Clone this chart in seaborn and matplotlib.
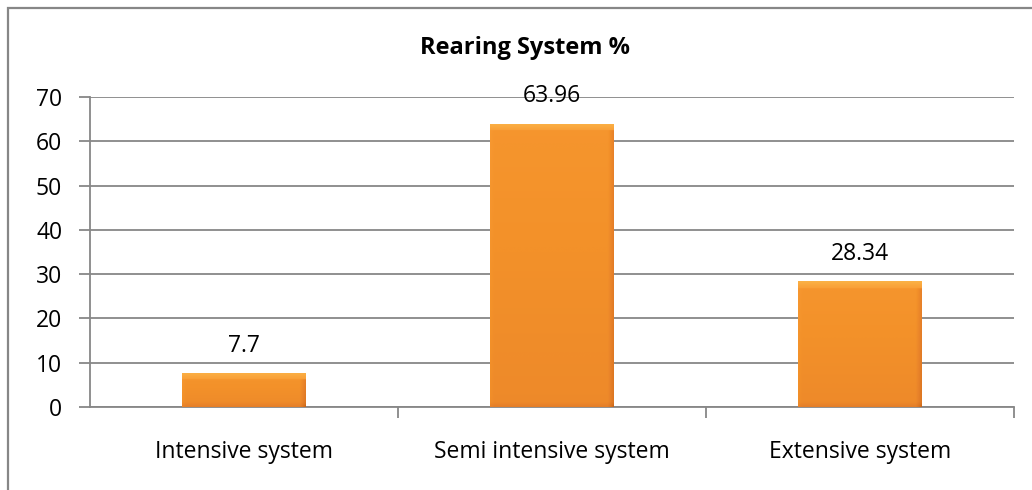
import numpy as np
import matplotlib
matplotlib.use("Agg")
import matplotlib.pyplot as plt
import seaborn as sns
import pandas as pd
from matplotlib.patches import Rectangle
from matplotlib.colors import LinearSegmentedColormap

categories = ["Intensive system", "Semi intensive system", "Extensive system"]
values = [7.7, 63.96, 28.34]
value_labels = ["7.7", "63.96", "28.34"]
title = "Rearing System %"

sns.set_theme(style="white")
plt.rcParams["font.family"] = ["Open Sans", "DejaVu Sans"]

GRID = "#878787"
FS = 16.5
W, H = 1032, 490
fig = plt.figure(figsize=(W / 100, H / 100), dpi=100)
ax = fig.add_axes([90 / W, 1 - 407 / H, (1014 - 90) / W, (407 - 97) / H])

df = pd.DataFrame({"system": categories, "pct": values})
sns.barplot(data=df, x="system", y="pct", width=0.4, color="#F39325",
            edgecolor="none", ax=ax, zorder=3)

# bevelled orange fill clipped to each bar
cmap = LinearSegmentedColormap.from_list(
    "bevel", ["#B95A14", "#DA7420", "#E8822A", "#F39129", "#F99C35", "#FBB448"])
px_per_unit = (407 - 97) / 70
for p in list(ax.patches):
    x0, y0 = p.get_x(), p.get_y()
    w, h = p.get_width(), p.get_height()
    nx, ny = 240, 400
    gx = np.linspace(0, 1, nx)
    gy = np.linspace(0, 1, ny)
    X, Y = np.meshgrid(gx, gy)
    hp = h * px_per_unit
    wp = 124.0
    # distances in pixels from each edge
    dl, dr = X * wp, (1 - X) * wp
    db, dt = Y * hp, (1 - Y) * hp
    base = 0.50 + 0.18 * Y
    base = np.where(dr < 6, base - 0.28 * (1 - dr / 6), base)
    base = np.where(dl < 4, base + 0.06 * (1 - dl / 4), base)
    base = np.where(db < 5, base - 0.16 * (1 - db / 5), base)
    base = np.where(dt < 7, 0.82 + 0.16 * (1 - dt / 7), base)
    img = ax.imshow(base, cmap=cmap, vmin=0, vmax=1, origin="lower",
                    extent=[x0, x0 + w, y0, y0 + h], aspect="auto", zorder=3.5,
                    interpolation="bilinear")
    img.set_clip_path(p)

ax.set_xlim(-0.5, 2.5)
ax.set_ylim(0, 70)
ax.set_yticks(np.arange(0, 71, 10))
ax.yaxis.grid(True, color=GRID, linewidth=1.3, zorder=0)
ax.set_axisbelow(True)
ax.set_xlabel("")
ax.set_ylabel("")

for s in ["top", "right"]:
    ax.spines[s].set_visible(False)
for s in ["left", "bottom"]:
    ax.spines[s].set_color(GRID)
    ax.spines[s].set_linewidth(1.3)

ax.tick_params(axis="y", which="major", length=8, width=1.3, color=GRID,
               labelsize=FS, labelcolor="black", left=True, pad=12)
ax.tick_params(axis="x", which="major", length=0, labelsize=FS,
               labelcolor="black", pad=24)
ax.set_xticks([0.5, 1.5, 2.5], minor=True)
ax.tick_params(axis="x", which="minor", length=8, width=1.3, color=GRID, bottom=True)

for i, (v, lab) in enumerate(zip(values, value_labels)):
    ax.annotate(lab, (i, v), xytext=(0, 11), textcoords="offset points",
                ha="center", va="bottom", fontsize=FS, color="black", zorder=5)

fig.text(525 / W, 1 - 48 / H, title, ha="center", va="center",
         fontsize=17, fontweight="bold", color="black")

# chart frame
fig.add_artist(Rectangle((8 / W, -0.05), 1.1, 1 - 8 / H + 0.05, transform=fig.transFigure,
                         fill=False, edgecolor=GRID, linewidth=1.6))

fig.savefig("out.png", dpi=100, facecolor="white")
